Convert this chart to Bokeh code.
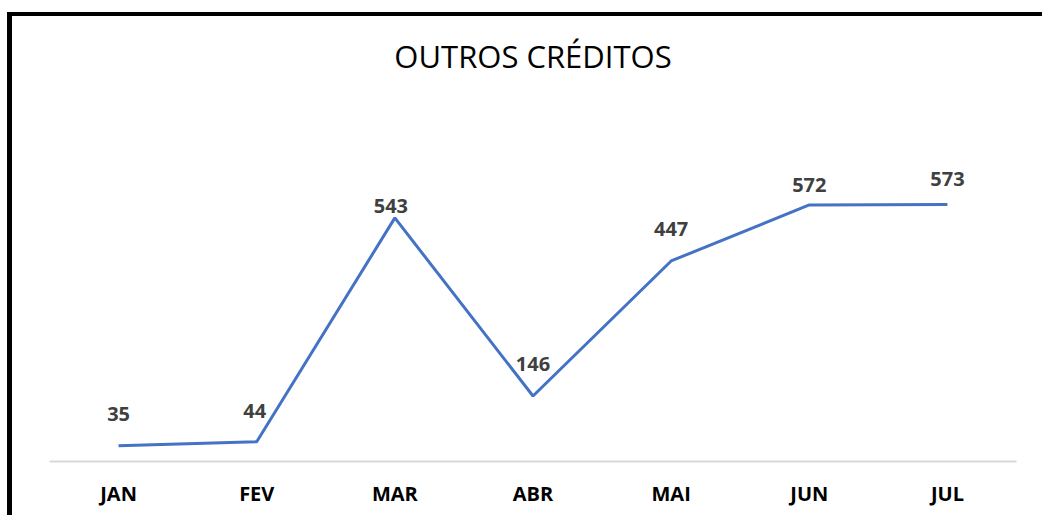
from bokeh.plotting import figure
from bokeh.models import ColumnDataSource, Range1d, FactorRange, Label
from bokeh.core.properties import value
from bokeh.embed import file_html
from bokeh.resources import INLINE

months = ["JAN", "FEV", "MAR", "ABR", "MAI", "JUN", "JUL"]
values = [35, 44, 543, 146, 447, 572, 573]
title_text = "OUTROS CRÉDITOS"

# label vertical offsets (px above point) - style only
label_dy = [32, 31, 12, 32, 32, 20, 25]
label_dx = [0, -2, -4, 0, 0, 0, 0]

src = ColumnDataSource(dict(
    x=months, y=values, lbl=[str(v) for v in values],
    dy=[-d for d in label_dy], dx=label_dx,
))

p = figure(
    width=1035, height=503,
    x_range=FactorRange(*months, range_padding=0),
    y_range=Range1d(0, 983),
    output_backend="svg", toolbar_location=None,
    min_border_left=37, min_border_right=31, min_border_top=4, min_border_bottom=58,
)
p.styles = {"margin-left": "7px", "margin-top": "12px",
            "border-top": "4px solid black", "border-left": "5px solid black"}
p.outline_line_color = None
p.background_fill_color = "white"
p.border_fill_color = "white"
p.xgrid.visible = False
p.ygrid.visible = False
p.yaxis.visible = False

ax = p.xaxis[0]
ax.axis_line_color = "#D9D9D9"
ax.axis_line_width = 2
ax.major_tick_line_color = None
ax.minor_tick_line_color = None
ax.major_label_standoff = 12
ax.major_label_text_font = "Open Sans"
ax.major_label_text_font_style = "bold"
ax.major_label_text_font_size = "20px"
ax.major_label_text_color = "#000000"

p.line("x", "y", source=src, line_color="#4472C4", line_width=3)
p.text("x", "y", text="lbl", source=src, y_offset="dy", x_offset="dx",
       text_font=value("Open Sans"), text_font_style="bold",
       text_font_size="20px", text_color="#404040",
       text_align="center", text_baseline="middle")

p.add_layout(Label(x=3.5, y=903, text=title_text, text_font="Open Sans",
                   text_font_size="31px", text_color="#000000",
                   text_align="center", text_baseline="middle"))

open("out.html", "w").write(file_html(p, INLINE))
